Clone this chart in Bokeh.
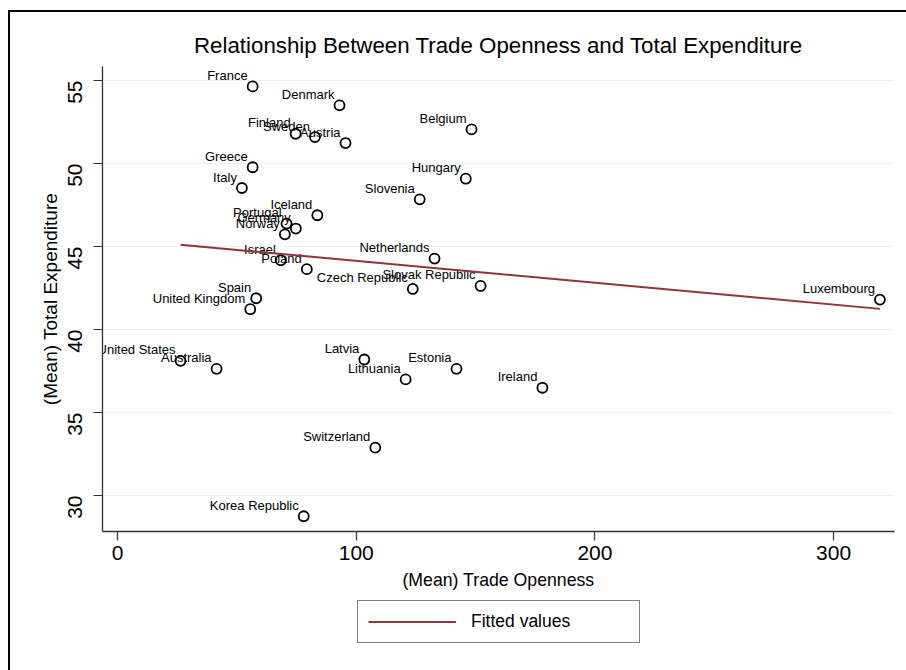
import math
import numpy as np
from bokeh.plotting import figure
from bokeh.layouts import column
from bokeh.models import ColumnDataSource, Range1d, FixedTicker, Legend, LegendItem
from bokeh.embed import file_html
from bokeh.resources import INLINE
from bokeh.core.properties import value

countries = ["France", "Denmark", "Belgium", "Finland", "Sweden", "Austria", "Greece",
             "Hungary", "Italy", "Slovenia", "Iceland", "Portugal", "Germany", "Norway",
             "Netherlands", "Israel", "Poland", "Czech Republic", "Slovak Republic", "Spain",
             "United Kingdom", "Luxembourg", "Ireland", "United States", "Australia",
             "Latvia", "Lithuania", "Estonia", "Switzerland", "Korea Republic"]

trade_openness = [56.6, 93.0, 148.3, 74.6, 82.7, 95.5, 56.6,
                  145.9, 52.1, 126.6, 83.7, 70.8, 74.7, 70.1,
                  132.8, 68.4, 79.3, 123.7, 152.1, 58.1,
                  55.6, 319.4, 178.0, 26.4, 41.5,
                  103.4, 120.7, 142.0, 108.0, 78.0]

total_expenditure = [54.64, 53.50, 52.05, 51.79, 51.59, 51.23, 49.77,
                     49.08, 48.52, 47.84, 46.88, 46.38, 46.08, 45.73,
                     44.27, 44.17, 43.63, 42.44, 42.62, 41.88,
                     41.22, 41.80, 36.49, 38.11, 37.63,
                     38.19, 36.99, 37.63, 32.88, 28.75]

x_ticks = [0, 100, 200, 300]
y_ticks = [30, 35, 40, 45, 50, 55]

FONT = "Liberation Sans"
FIT_COLOR = "#90353B"

# Linear fit (fitted values) from the data
slope, intercept = np.polyfit(trade_openness, total_expenditure, 1)
fit_x = [min(trade_openness), max(trade_openness)]
fit_y = [intercept + slope * v for v in fit_x]

src = ColumnDataSource(dict(x=trade_openness, y=total_expenditure, name=countries))
fit_src = ColumnDataSource(dict(x=fit_x, y=fit_y))

p = figure(width=896, height=585, output_backend="svg", toolbar_location=None,
           x_range=Range1d(-6.3, 325.5), y_range=Range1d(27.83, 55.84),
           min_border_left=92, min_border_right=12, min_border_top=54, min_border_bottom=66,
           title="Relationship Between Trade Openness and Total Expenditure")
p.background_fill_color = "white"
p.border_fill_color = "white"
p.outline_line_color = None

p.title.text_font = FONT
p.title.text_font_size = "22.3px"
p.title.text_font_style = "normal"
p.title.text_color = "black"
p.title.align = "center"
p.title.standoff = 17

for ax in (p.xaxis[0], p.yaxis[0]):
    ax.axis_line_color = "#333333"
    ax.axis_line_width = 1.3
    ax.major_tick_line_color = "#333333"
    ax.major_tick_line_width = 1.2
    ax.major_tick_out = 9
    ax.major_tick_in = 0
    ax.minor_tick_line_color = None
    ax.major_label_text_font = FONT
    ax.major_label_text_font_size = "21px"
    ax.major_label_text_color = "black"
    ax.axis_label_text_font = FONT
    ax.axis_label_text_font_style = "normal"
    ax.axis_label_text_color = "black"

p.xaxis.major_label_standoff = 5
p.xaxis.axis_label_standoff = 7
p.xaxis.axis_label_text_font_size = "17.7px"
p.yaxis.major_label_standoff = 18
p.yaxis.axis_label_standoff = -2
p.yaxis.axis_label_text_font_size = "19px"

p.xaxis.ticker = FixedTicker(ticks=x_ticks)
p.yaxis.ticker = FixedTicker(ticks=y_ticks)
p.yaxis.major_label_orientation = math.pi / 2
p.xaxis.axis_label = "(Mean) Trade Openness"
p.yaxis.axis_label = "(Mean) Total Expenditure"

p.xgrid.visible = False
p.ygrid.ticker = FixedTicker(ticks=y_ticks)
p.ygrid.grid_line_color = "#EAF2F3"
p.ygrid.grid_line_width = 1.2

p.scatter("x", "y", source=src, marker="circle", size=10, fill_color=None,
          line_color="black", line_width=1.8)
p.text("x", "y", text="name", source=src, x_offset=-5, y_offset=-11,
       text_align="right", text_baseline="middle", text_font=value(FONT),
       text_font_size="13px", text_color="black")

p.line("x", "y", source=fit_src, line_color=FIT_COLOR, line_width=2)

# Legend strip below the plot (its line renderer uses the same fitted data,
# which lies outside this strip's ranges, so only the legend sample shows)
p2 = figure(width=896, height=73, output_backend="svg", toolbar_location=None,
            x_axis_type=None, y_axis_type=None,
            x_range=Range1d(0, 1), y_range=Range1d(0, 1),
            min_border=0, min_border_left=0, min_border_right=0,
            min_border_top=0, min_border_bottom=0)
p2.outline_line_color = None
p2.background_fill_color = "white"
p2.border_fill_color = "white"
p2.grid.visible = False
proxy = p2.line("x", "y", source=fit_src, line_color=FIT_COLOR, line_width=2)

legend = Legend(items=[LegendItem(label="Fitted values", renderers=[proxy])],
                location=(255, 27), orientation="horizontal")
legend.border_line_color = "black"
legend.border_line_width = 1
legend.background_fill_color = "white"
legend.padding = 10
legend.margin = 0
legend.glyph_width = 88
legend.glyph_height = 21
legend.label_height = 21
legend.label_width = 158
legend.label_standoff = 15
legend.label_text_font = FONT
legend.label_text_font_size = "17.5px"
legend.label_text_color = "black"
legend.spacing = 0
p2.add_layout(legend)

layout = column(p, p2, spacing=0)
layout.margin = (10, 0, 0, 8)
layout.styles = {"border-left": "2px solid black", "border-top": "2px solid black"}

open("out.html", "w").write(file_html(layout, INLINE))
